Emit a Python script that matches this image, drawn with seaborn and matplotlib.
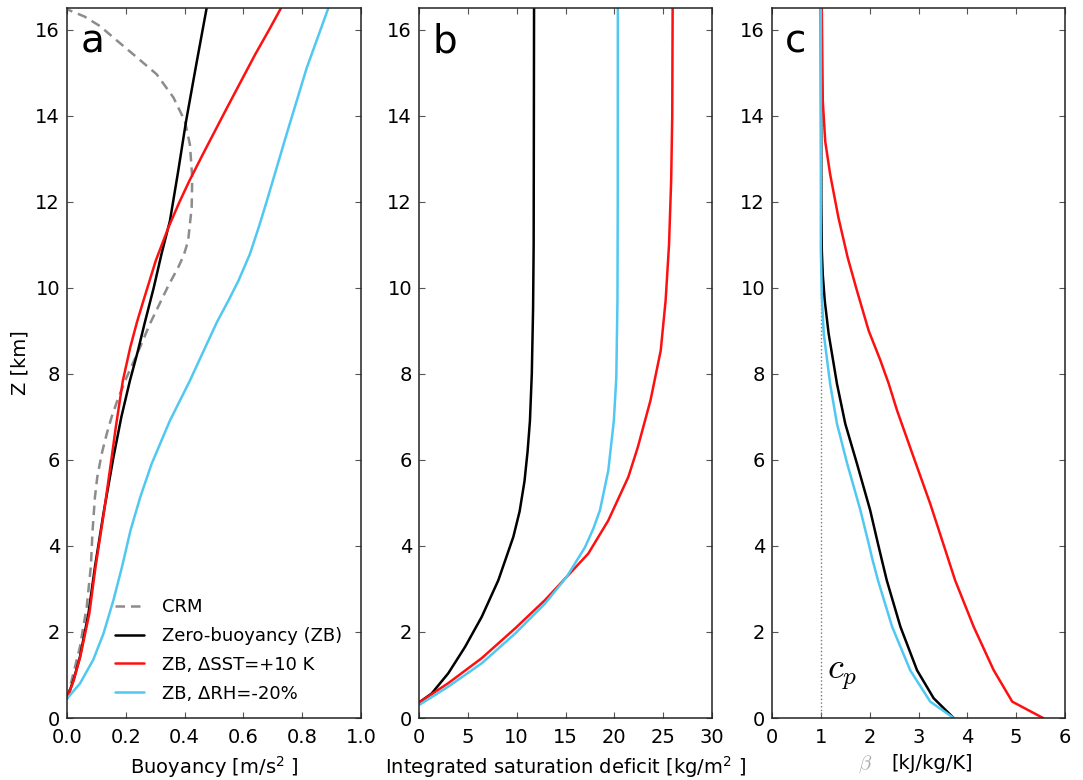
import matplotlib
matplotlib.use("Agg")
import matplotlib.pyplot as plt
import seaborn as sns

# ---------------- data ----------------
# Panel a: buoyancy [m/s^2] vs height [km]
z_crm = [0.45, 0.88, 1.65, 2.58, 3.51, 4.36, 5.13, 5.6, 6.14, 6.6, 7.0, 7.45, 7.92, 8.61, 9.16,
         10.05, 10.47, 10.75, 11.09, 11.86, 12.56, 13.33, 13.87, 14.42, 14.96, 15.42, 15.8, 16.08,
         16.3, 16.47]
b_crm = [0.0, 0.016, 0.044, 0.067, 0.081, 0.087, 0.095, 0.103, 0.118, 0.135, 0.152, 0.175, 0.203,
         0.248, 0.282, 0.345, 0.378, 0.397, 0.412, 0.424, 0.426, 0.418, 0.401, 0.362, 0.305, 0.226,
         0.16, 0.112, 0.06, 0.0]

z_zb_a = [0.45, 0.88, 1.42, 2.43, 3.51, 4.75, 6.06, 7.0, 7.84, 8.5, 9.2, 10.0, 10.8, 11.55, 12.7,
          13.87, 15.2, 16.5]
b_zb = [0.0, 0.022, 0.044, 0.073, 0.095, 0.124, 0.158, 0.185, 0.214, 0.24, 0.265, 0.295, 0.322,
        0.35, 0.378, 0.405, 0.44, 0.475]

z_sst_a = [0.45, 0.88, 1.42, 2.43, 3.51, 4.75, 6.06, 6.76, 7.84, 8.61, 9.2, 9.7, 10.63, 11.4, 12.0,
           12.48, 13.1, 13.6, 14.1, 14.8, 15.42, 16.0, 16.5]
b_sst = [0.0, 0.023, 0.045, 0.076, 0.097, 0.125, 0.152, 0.166, 0.19, 0.215, 0.238, 0.26, 0.302,
         0.345, 0.383, 0.416, 0.462, 0.5, 0.538, 0.592, 0.64, 0.688, 0.728]

z_rh_a = [0.45, 0.80, 1.35, 1.96, 2.74, 3.51, 4.36, 5.13, 5.91, 6.91, 7.84, 8.61, 9.2, 9.7, 10.16,
          10.78, 11.4, 12.0, 13.57, 15.1, 16.5]
b_rh = [0.0, 0.044, 0.089, 0.124, 0.158, 0.187, 0.216, 0.249, 0.288, 0.35, 0.418, 0.47, 0.51,
        0.549, 0.583, 0.622, 0.652, 0.679, 0.747, 0.815, 0.889]

# Panel b: integrated saturation deficit [kg/m^2]
z_zb_b = [0.36, 0.57, 1.04, 1.65, 2.35, 3.2, 4.21, 4.8, 5.5, 6.2, 6.91, 8.0, 9.5, 11.0, 16.5]
d_zb = [0.0, 1.30, 3.0, 4.71, 6.42, 8.12, 9.66, 10.3, 10.8, 11.12, 11.36, 11.55, 11.68, 11.74, 11.78]

z_sst_b = [0.36, 0.81, 1.39, 2.08, 2.74, 3.28, 3.82, 4.59, 5.6, 6.29, 6.91, 7.38, 8.54, 9.7, 11.0,
           12.5, 14.0, 16.5]
d_sst = [0.0, 3.0, 6.42, 9.83, 12.9, 15.12, 17.33, 19.38, 21.43, 22.4, 23.14, 23.7, 24.75, 25.25,
         25.6, 25.82, 25.93, 25.97]

z_rh_b = [0.30, 0.73, 1.27, 1.96, 2.66, 3.28, 3.97, 4.4, 4.83, 5.75, 6.91, 7.9, 9.7, 12.0, 16.5]
d_rh = [0.0, 3.0, 6.42, 9.83, 12.9, 15.12, 17.0, 17.85, 18.53, 19.38, 19.95, 20.2, 20.32, 20.35, 20.36]

# Panel c: beta [kJ/kg/K]
z_zb_c = [0.0, 0.46, 1.11, 2.12, 3.2, 3.67, 4.05, 4.83, 5.91, 6.84, 7.77, 8.93, 9.7, 10.3, 10.86,
          12.0, 16.5]
beta_zb = [3.72, 3.31, 2.97, 2.63, 2.35, 2.25, 2.17, 2.01, 1.74, 1.50, 1.33, 1.16, 1.08, 1.04, 1.02,
           1.01, 1.0]

z_sst_c = [0.0, 0.38, 1.11, 2.12, 3.2, 3.9, 4.98, 6.06, 7.15, 7.77, 8.31, 9.0, 9.93, 10.7, 11.63,
           12.64, 13.4, 14.34, 16.5]
beta_sst = [5.55, 4.92, 4.54, 4.13, 3.75, 3.55, 3.24, 2.90, 2.56, 2.39, 2.22, 1.98, 1.74, 1.55, 1.36,
            1.19, 1.09, 1.04, 1.02]

z_rh_c = [0.0, 0.38, 1.11, 2.12, 3.2, 3.67, 4.05, 4.83, 5.91, 6.84, 7.77, 8.93, 9.8, 10.86, 16.5]
beta_rh = [3.72, 3.24, 2.83, 2.46, 2.17, 2.06, 1.98, 1.81, 1.54, 1.33, 1.19, 1.06, 1.02, 1.0, 1.0]

cp_value = 1.0  # kJ/kg/K reference line

legend_labels = ["CRM", "Zero-buoyancy (ZB)", "ZB, \u0394SST=+10 K", "ZB, \u0394RH=-20%"]
panel_letters = ["a", "b", "c"]
xlabels = [r"Buoyancy [m/s$^2$ ]", r"Integrated saturation deficit [kg/m$^2$ ]", "[kJ/kg/K]"]
xticks_list = [[0.0, 0.2, 0.4, 0.6, 0.8, 1.0], [0, 5, 10, 15, 20, 25, 30], [0, 1, 2, 3, 4, 5, 6]]
xtick_labels = [["0.0", "0.2", "0.4", "0.6", "0.8", "1.0"],
                ["0", "5", "10", "15", "20", "25", "30"],
                ["0", "1", "2", "3", "4", "5", "6"]]
xlims = [(0, 1.0), (0, 30), (0, 6)]
yticks = [0, 2, 4, 6, 8, 10, 12, 14, 16]

# ---------------- style ----------------
sns.set_style("ticks", {
    "xtick.direction": "in", "ytick.direction": "in",
    "xtick.top": True, "ytick.right": True,
    "axes.edgecolor": "#222222",
    "text.color": "black", "axes.labelcolor": "black",
    "xtick.color": "black", "ytick.color": "black",
})
plt.rcParams["font.family"] = ["DejaVu Sans"]

C_ZB = "black"
C_SST = "#ff1010"
C_RH = "#50c8f2"
C_CRM = "#8c8c8c"
LW = 1.8

fig = plt.figure(figsize=(10.83, 7.8), dpi=100)
W, H = 1083.0, 780.0
lefts = [67, 419, 772]
widths = [294, 293, 293]
bottom_px, top_px = 718, 8
axes = [fig.add_axes([l / W, 1 - bottom_px / H, w / W, (bottom_px - top_px) / H])
        for l, w in zip(lefts, widths)]

# Panel a
ax = axes[0]
sns.lineplot(x=b_crm, y=z_crm, sort=False, estimator=None, color=C_CRM, lw=LW,
             linestyle=(0, (3.8, 2.4)), ax=ax, label=legend_labels[0])
sns.lineplot(x=b_zb, y=z_zb_a, sort=False, estimator=None, color=C_ZB, lw=LW, ax=ax,
             label=legend_labels[1])
sns.lineplot(x=b_sst, y=z_sst_a, sort=False, estimator=None, color=C_SST, lw=LW, ax=ax,
             label=legend_labels[2])
sns.lineplot(x=b_rh, y=z_rh_a, sort=False, estimator=None, color=C_RH, lw=LW, ax=ax,
             label=legend_labels[3])
ax.legend(loc="lower left", bbox_to_anchor=(0.12, 0.004), frameon=False, fontsize=13,
          handlelength=1.6, handletextpad=1.0, labelspacing=0.6, borderpad=0.2)
ax.set_ylabel("Z [km]", fontsize=14)

# Panel b
ax = axes[1]
sns.lineplot(x=d_zb, y=z_zb_b, sort=False, estimator=None, color=C_ZB, lw=LW, ax=ax)
sns.lineplot(x=d_sst, y=z_sst_b, sort=False, estimator=None, color=C_SST, lw=LW, ax=ax)
sns.lineplot(x=d_rh, y=z_rh_b, sort=False, estimator=None, color=C_RH, lw=LW, ax=ax)

# Panel c
ax = axes[2]
ax.axvline(cp_value, color="#777777", ls=":", lw=1.0)
sns.lineplot(x=beta_zb, y=z_zb_c, sort=False, estimator=None, color=C_ZB, lw=LW, ax=ax)
sns.lineplot(x=beta_sst, y=z_sst_c, sort=False, estimator=None, color=C_SST, lw=LW, ax=ax)
sns.lineplot(x=beta_rh, y=z_rh_c, sort=False, estimator=None, color=C_RH, lw=LW, ax=ax)
ax.text(1.12, 0.92, r"$c_p$", fontsize=26, math_fontfamily="cm", ha="left", va="baseline")

for i, ax in enumerate(axes):
    ax.set_xlim(*xlims[i])
    ax.set_ylim(0, 16.5)
    ax.set_xticks(xticks_list[i])
    ax.set_xticklabels(xtick_labels[i])
    ax.set_yticks(yticks)
    ax.set_yticklabels([str(t) for t in yticks])
    ax.tick_params(axis="both", which="major", labelsize=14, length=4.5, width=0.8,
                   direction="in", top=True, right=True, color="#555555", labelcolor="black")
    ax.tick_params(axis="x", pad=7.5)
    ax.tick_params(axis="y", pad=5)
    ax.set_xlabel(xlabels[i], fontsize=14, labelpad=5, color="black")
    for s in ax.spines.values():
        s.set_linewidth(1.1)
        s.set_color("#222222")
    ax.text(0.045, 0.938, panel_letters[i], transform=ax.transAxes, fontsize=28,
            ha="left", va="baseline", color="black")
    if i > 0:
        ax.set_ylabel("")

axes[2].xaxis.label.set_x(0.548)
axes[2].text(0.318, -0.071, r"$\beta$", transform=axes[2].transAxes, fontsize=15,
             math_fontfamily="cm", color="#aaaaaa", ha="center", va="baseline")

fig.savefig("out.png", dpi=100)
